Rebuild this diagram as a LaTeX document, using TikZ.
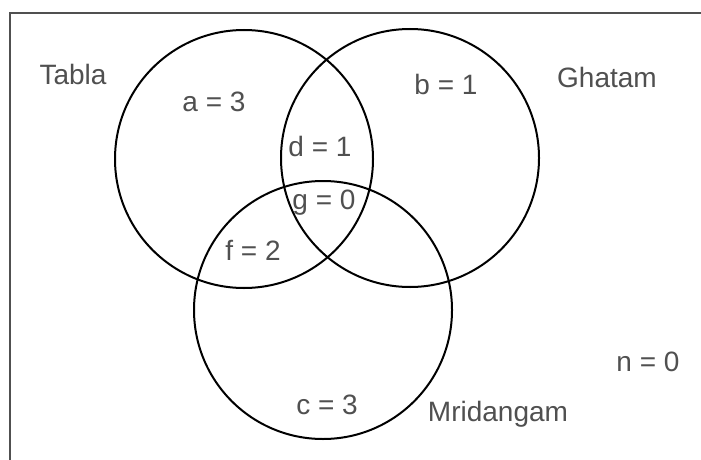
\documentclass[tikz,border=0pt]{standalone}
\usepackage{fontspec}
\setmainfont{Liberation Sans}
\usetikzlibrary{positioning}
\definecolor{ink}{HTML}{505050}

\begin{document}
\begin{tikzpicture}[x=1pt, y=-1pt,
  set/.style={draw=black, line width=2pt, circle, minimum size=258pt, inner sep=0},
  lab/.style={text=ink, font=\fontsize{28}{30}\selectfont, inner sep=0}]
\useasboundingbox (0,0) rectangle (701,460);
\clip (0,0) rectangle (701,460);
\fill[white] (0,0) rectangle (701,460);
% outer frame, cut by the picture edge on the right and below
\draw[draw=ink, line width=2pt] (10,13) rectangle (730,490);
% the three sets
\node[set] (tabla) at (244,159) {};
\node[set] (ghatam) at (410,158) {};
\node[set] (mridangam) at (323,310) {};
% set names
\node[lab] (tablaname) at (73,74) {Tabla};
\node[lab] (ghatamname) at (607,77) {Ghatam};
\node[lab] (mridangamname) at (498,414) {Mridangam};
% region counts
\node[lab] (a) at (214,102) {a = 3};
\node[lab] (b) at (446,84) {b = 1};
\node[lab] (c) at (327,405) {c = 3};
\node[lab] (d) at (320,146) {d = 1};
\node[lab] (f) at (253,250) {f = 2};
\node[lab] (g) at (324,203) {g = 0};
\node[lab] (n) at (648,362) {n = 0};
\end{tikzpicture}
\end{document}
